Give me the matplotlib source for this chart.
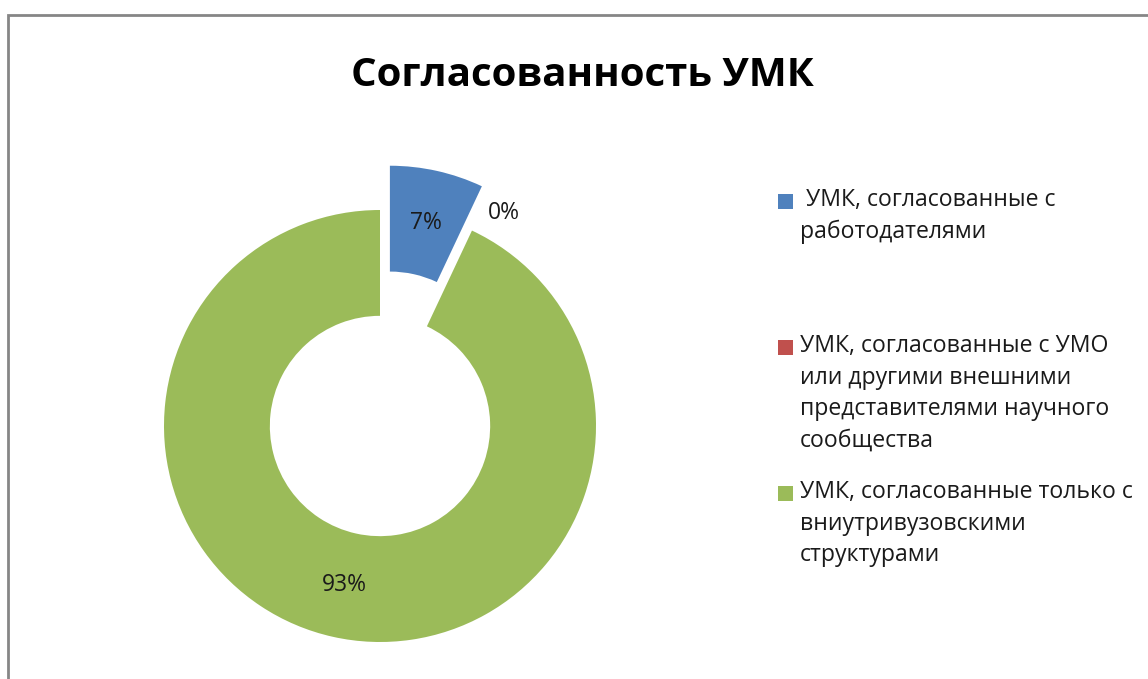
import numpy as np
import matplotlib.pyplot as plt
from matplotlib.patches import Rectangle

plt.rcParams['font.family'] = ['Open Sans', 'DejaVu Sans']

title = "Согласованность УМК"
labels = [" УМК, согласованные с\nработодателями",
          "УМК, согласованные с УМО\nили другими внешними\nпредставителями научного\nсообщества",
          "УМК, согласованные только с\nвниутривузовскими\nструктурами"]
values = [7, 0, 93]
pct_text = ["7%", "0%", "93%"]
colors = ['#4F81BD', '#C0504D', '#9BBB59']
explode = [0.21, 0, 0]

W, H = 1148, 679
fig = plt.figure(figsize=(W / 100, H / 100), dpi=100)

# pie axes: centre (380, 426) px, radius 214 px
half = 270
R = 214
ax = fig.add_axes([(380 - half) / W, (H - 426 - half) / H, 2 * half / W, 2 * half / H])
lim = half / R
ax.set_xlim(-lim, lim)
ax.set_ylim(-lim, lim)
ax.set_aspect('equal')
ax.axis('off')

wedges, _ = ax.pie(values, colors=colors, startangle=90, counterclock=False,
                   explode=explode, radius=1, wedgeprops=dict(width=0.49, linewidth=0),
                   normalize=True)

# percentage labels
ang0 = 90
for w, v, t, e in zip(wedges, values, pct_text, explode):
    span = v / sum(values) * 360
    mid = np.deg2rad(ang0 - span / 2)
    if v == 0:
        r = 1.14
        mid = np.deg2rad(ang0 - 5)
    else:
        r = 0.755 + e
    ax.text(r * np.cos(mid), r * np.sin(mid), t, ha='center', va='center',
            fontsize=16.5, color='#1a1a1a')
    ang0 -= span

fig.text(582 / W, 1 - 75 / H, title, ha='center', va='center',
         fontsize=29, fontweight='bold', color='black')

# legend
leg_y = [201, 347, 493]
for lab, c, y in zip(labels, colors, leg_y):
    fig.patches.append(Rectangle((778 / W, 1 - (y + 8) / H), 15 / W, 15 / H,
                                 transform=fig.transFigure, facecolor=c, edgecolor='none'))
    fig.text(800 / W, 1 - (y - 13) / H, lab, ha='left', va='top',
             fontsize=16.6, color='#1a1a1a', linespacing=1.42)

# chart border
fig.patches.append(Rectangle((8 / W, -0.1), 1.2, 1 - 15 / H + 0.1,
                             transform=fig.transFigure, facecolor='none',
                             edgecolor='#868686', linewidth=2))

fig.savefig('out.png', dpi=100)
